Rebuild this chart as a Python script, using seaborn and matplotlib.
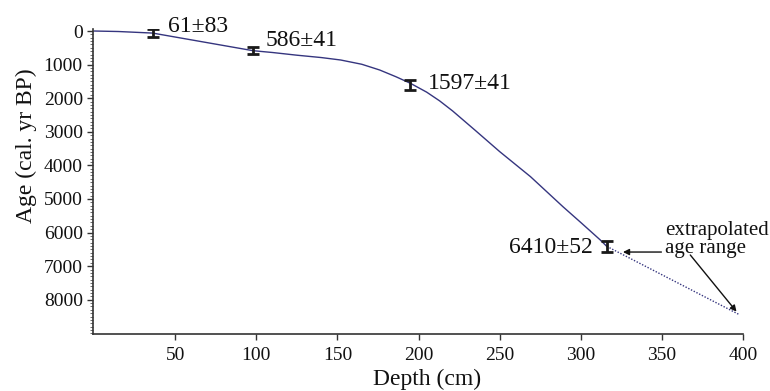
import matplotlib
matplotlib.use("Agg")
import matplotlib.pyplot as plt
import seaborn as sns
import pandas as pd
from matplotlib.ticker import MultipleLocator

# ---- data ----
# dated samples
sample_depth = [36, 98, 195, 316]
sample_age = [61, 586, 1597, 6410]
sample_err_drawn = [130, 100, 150, 160]   # half-height of the drawn bars
sample_labels = ["61±83", "586±41", "1597±41", "6410±52"]

# age-depth model curve (solid)
model_depth = [0, 15, 36, 60, 98, 110, 125, 140, 152, 165, 176, 186, 195, 205,
               213, 221, 235, 250, 269, 289, 300, 312, 316]
model_age = [0, 15, 61, 264, 586, 640, 720, 790, 863, 990, 1160, 1360, 1557,
             1820, 2080, 2380, 2960, 3590, 4336, 5230, 5700, 6220, 6410]

# extrapolated part (dotted)
extrap_depth = [316, 398]
extrap_age = [6410, 8450]

x_ticks = [50, 100, 150, 200, 250, 300, 350, 400]
y_ticks = [0, 1000, 2000, 3000, 4000, 5000, 6000, 7000, 8000]

sns.set_style("ticks")
plt.rcParams["font.family"] = ["Liberation Serif", "DejaVu Serif"]

W, H = 770, 391
fig = plt.figure(figsize=(W / 100, H / 100), dpi=100)
ax = fig.add_axes([92.5 / W, 1 - 334 / H, (743 - 92.5) / W, (334 - 29) / H])

line_color = "#35357f"
model_df = pd.DataFrame({"depth": model_depth, "age": model_age})
extrap_df = pd.DataFrame({"depth": extrap_depth, "age": extrap_age})
sns.lineplot(data=model_df, x="depth", y="age", ax=ax, color=line_color,
             linewidth=1.0, sort=False, estimator=None)
sns.lineplot(data=extrap_df, x="depth", y="age", ax=ax, color=line_color,
             linewidth=1.0, linestyle=(0, (1, 1.2)), sort=False, estimator=None)

ax.errorbar(sample_depth, sample_age, yerr=sample_err_drawn, fmt="none",
            ecolor="#1a1a1a", elinewidth=2.0, capsize=4, capthick=2.0, zorder=5)

# sample labels
label_pos = [(45.6, 15, "left"), (105.4, 446, "left"),
             (206, 1726, "left"), (307.6, 6616, "right")]
for (x, y, ha), txt in zip(label_pos, sample_labels):
    ax.text(x, y, txt, ha=ha, va="baseline", fontsize=17, color="#111111",
            clip_on=False)

ax.text(352, 6071, "extrapolated", ha="left", va="baseline", fontsize=15,
        color="#111111", clip_on=False)
ax.text(352, 6607, "age range", ha="left", va="baseline", fontsize=15,
        color="#111111", clip_on=False)
arrow_kw = dict(arrowstyle="-|>", color="#111111", lw=1.0,
                mutation_scale=9, shrinkA=0, shrinkB=0)
ax.annotate("", xy=(326, 6580), xytext=(349.7, 6580), arrowprops=arrow_kw)
ax.annotate("", xy=(396, 8354), xytext=(367.5, 6667), arrowprops=arrow_kw)

ax.set_xlim(-1, 400)
ax.set_ylim(9020, -60)
ax.set_xticks(x_ticks)
ax.set_yticks(y_ticks)
ax.yaxis.set_minor_locator(MultipleLocator(100))
ax.tick_params(axis="both", which="major", direction="out", length=4,
               width=1.0, color="#333333", labelsize=14, labelcolor="#111111")
ax.tick_params(axis="x", which="major", pad=5)
ax.tick_params(axis="y", which="major", pad=3)
ax.tick_params(axis="y", which="minor", direction="out", length=2,
               width=0.6, color="#555555")

for s in ["top", "right"]:
    ax.spines[s].set_visible(False)
for s in ["left", "bottom"]:
    ax.spines[s].set_color("#333333")
    ax.spines[s].set_linewidth(1.2)

ax.set_xlabel("Depth (cm)", fontsize=17, color="#111111")
ax.set_ylabel("Age (cal. yr BP)", fontsize=17, color="#111111")
ax.xaxis.set_label_coords((427 - 92.5) / (743 - 92.5), -(369 - 334) / (334 - 29))
ax.yaxis.set_label_coords(-(92.5 - 37) / (743 - 92.5), (334 - 146) / (334 - 29))
ax.xaxis.label.set_va("top")

fig.savefig("out.png", dpi=100, facecolor="white")
